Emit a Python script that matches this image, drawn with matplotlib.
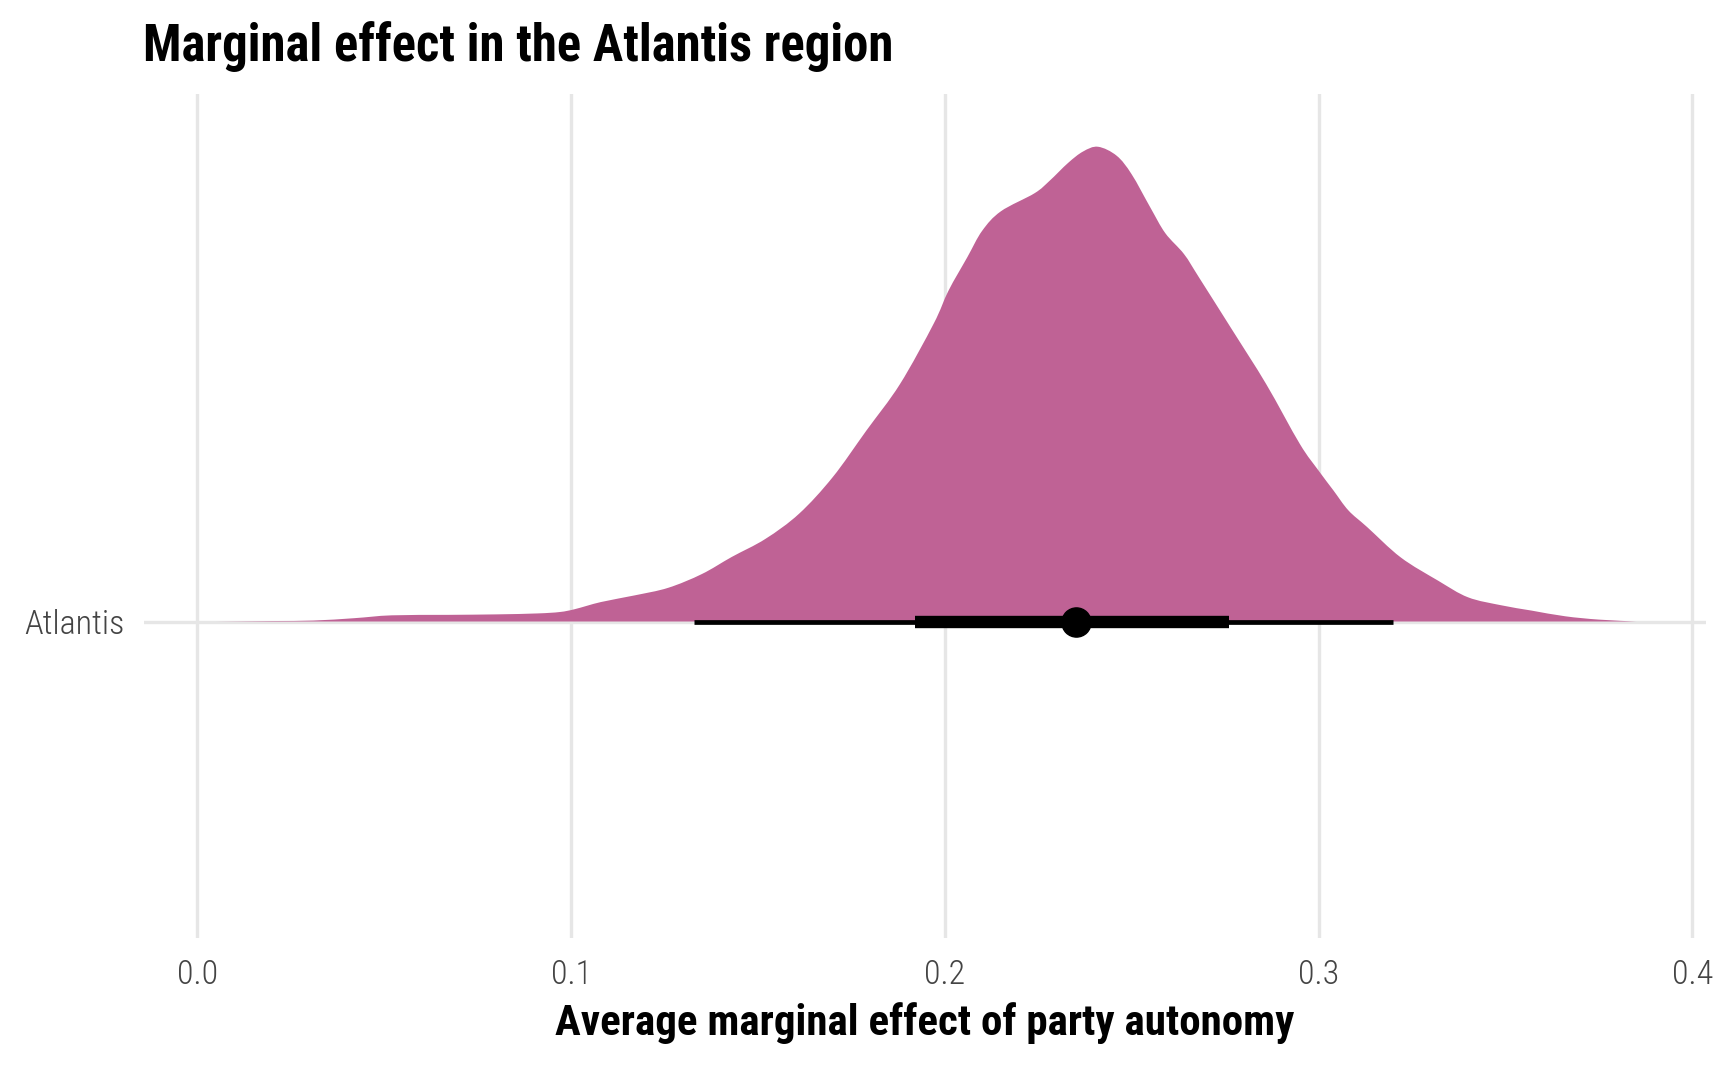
import numpy as np
import matplotlib.pyplot as plt
from matplotlib.path import Path
from matplotlib.patches import PathPatch

# density of the posterior draws (relative height, peak = 1)
dens_x = [0.005, 0.020, 0.031, 0.042, 0.052, 0.067, 0.080, 0.091, 0.097, 0.101,
          0.108, 0.117, 0.126, 0.135, 0.143, 0.152, 0.161, 0.170, 0.179, 0.188,
          0.197, 0.201, 0.206, 0.210, 0.215, 0.224, 0.228, 0.233, 0.237, 0.241,
          0.246, 0.250, 0.255, 0.259, 0.264, 0.268, 0.277, 0.286, 0.295, 0.300,
          0.304, 0.308, 0.313, 0.322, 0.332, 0.340, 0.349, 0.357, 0.366, 0.375,
          0.385]
dens_y = [0.000, 0.001, 0.002, 0.007, 0.013, 0.014, 0.015, 0.017, 0.020, 0.026,
          0.041, 0.055, 0.071, 0.100, 0.136, 0.174, 0.227, 0.304, 0.402, 0.500,
          0.627, 0.697, 0.767, 0.823, 0.864, 0.902, 0.928, 0.966, 0.990, 1.000,
          0.981, 0.942, 0.872, 0.818, 0.774, 0.725, 0.613, 0.500, 0.374, 0.318,
          0.276, 0.234, 0.199, 0.135, 0.086, 0.051, 0.034, 0.023, 0.011, 0.004,
          0.000]

region = "Atlantis"
point_est = 0.235
interval_66 = (0.192, 0.276)
interval_95 = (0.133, 0.320)

xticks = [0.0, 0.1, 0.2, 0.3, 0.4]
xtick_labels = ["0.0", "0.1", "0.2", "0.3", "0.4"]

FILL = "#bf6295"
GRID = "#e6e6e6"
FONT = ["Roboto Condensed", "Liberation Sans Narrow", "DejaVu Sans"]
plt.rcParams["font.family"] = FONT


def smooth_slab(xs, ys, base):
    # draw the outline as cubic curves through the read points (catmull-rom)
    pts = np.column_stack([xs, ys])
    n = len(pts)
    verts = [(xs[0], base), tuple(pts[0])]
    codes = [Path.MOVETO, Path.LINETO]
    for i in range(n - 1):
        p0 = pts[max(i - 1, 0)]
        p1 = pts[i]
        p2 = pts[i + 1]
        p3 = pts[min(i + 2, n - 1)]
        c1 = p1 + (p2 - p0) / 6.0
        c2 = p2 - (p3 - p1) / 6.0
        verts += [tuple(c1), tuple(c2), tuple(p2)]
        codes += [Path.CURVE4] * 3
    verts += [(xs[-1], base), (xs[0], base)]
    codes += [Path.LINETO, Path.CLOSEPOLY]
    return Path(verts, codes)


fig = plt.figure(figsize=(17.28, 10.67), dpi=100)
ax = fig.add_axes([0.0833, 0.1209, 0.904, 0.791])

y0 = 1.0
scale = 0.9
slab = smooth_slab(np.array(dens_x), y0 + scale * np.array(dens_y), y0)
ax.add_patch(PathPatch(slab, facecolor=FILL, lw=0, zorder=2))

ax.plot(interval_95, [y0, y0], color="black", lw=3.4, solid_capstyle="butt", zorder=3)
ax.plot(interval_66, [y0, y0], color="black", lw=8.9, solid_capstyle="butt", zorder=4)
ax.plot([point_est], [y0], "o", color="black", ms=21, zorder=5)

ax.set_xlim(-0.0143, 0.4037)
ax.set_ylim(0.4, 2.0)
ax.set_xticks(xticks)
ax.set_xticklabels(xtick_labels)
ax.set_yticks([y0])
ax.set_yticklabels([region])
ax.grid(True, color=GRID, lw=2.4, zorder=0)
ax.set_axisbelow(True)
for s in ax.spines.values():
    s.set_visible(False)
ax.tick_params(length=0, labelsize=24.5, labelcolor="#444444")
ax.tick_params(axis="x", pad=15)
ax.tick_params(axis="y", pad=14)
for lab in ax.get_xticklabels() + ax.get_yticklabels():
    lab.set_fontweight("light")

fig.text(0.0828, 1 - 61 / 1067, "Marginal effect in the Atlantis region",
         fontsize=36.5, fontweight="bold", va="baseline", ha="left")
fig.text(0.5353, 1 - 1035 / 1067, "Average marginal effect of party autonomy",
         fontsize=31, fontweight="bold", va="baseline", ha="center")

fig.savefig("out.png", dpi=100, facecolor="white")
